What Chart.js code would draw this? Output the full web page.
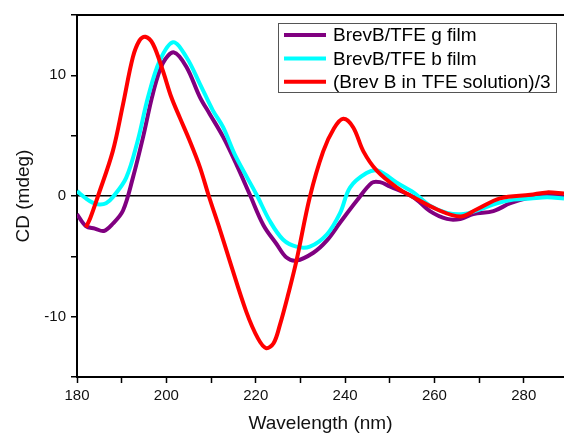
<!DOCTYPE html>
<html>
<head>
<meta charset="utf-8">
<style>
  html, body { margin: 0; padding: 0; background: #fff; }
</style>
<script src="https://cdn.jsdelivr.net/npm/chart.js@4.4.1/dist/chart.umd.min.js"></script>
</head>
<body>
<canvas id="cdChart" width="564" height="437"></canvas>
<script>
// CD spectra of BrevB: two films and the TFE solution (scaled by 1/3)
const seriesNames = ["BrevB/TFE g film", "BrevB/TFE b film", "(Brev B in TFE solution)/3"];
const seriesColors = ["#800080", "#00ffff", "#ff0000"];

const gFilmWl = [180, 182, 184, 186, 188, 190.3, 192.5, 194.8, 197, 199.2, 201.7, 204.5, 207.5, 209.7, 212.7, 215.7,
  218.7, 221.7, 224.7, 226.9, 229.1, 232.9, 235.9, 238.9, 242.6, 246, 247.8, 250, 255.3, 259, 262.8, 265.8, 268.7,
  273.2, 277, 281.5, 286, 289];
const gFilmCd = [-1.5, -2.5, -2.7, -2.9, -2.3, -1.2, 1.5, 4.9, 8.5, 11, 11.9, 10.7, 8.2, 6.8, 4.9, 2.6,
  0.1, -2.4, -4.0, -5.1, -5.35, -4.7, -3.7, -2.2, -0.4, 1.1, 1.15, 0.8, -0.1, -1.25, -1.9, -1.9, -1.5,
  -1.25, -0.6, -0.1, 0.1, -0.1];

const bFilmWl = [180, 182, 183.5, 185, 186.5, 188, 191, 193.6, 195.9, 198.5, 201.5, 204.5, 207.5, 210.4, 212.7, 215.5,
  220.2, 223.2, 226.1, 229.1, 232.1, 235.9, 238.9, 241.1, 244.8, 247.4, 251.6, 255.3, 259, 262.8, 266.5, 270.2,
  274, 277.7, 281.5, 285.2, 289];
const bFilmCd = [0.4, -0.2, -0.55, -0.7, -0.6, -0.1, 1.5, 4.6, 8.2, 11.2, 12.75, 11.5, 9.3, 7.1, 5.7, 3.3,
  0.1, -2.1, -3.6, -4.2, -4.2, -3.2, -1.4, 0.7, 1.9, 2.1, 1.1, 0.3, -0.8, -1.4, -1.5, -1.1,
  -0.6, -0.3, -0.2, -0.1, -0.2];

const solnWl = [182, 183, 184.7, 188, 190.3, 192.5, 194, 195.3, 197, 199.2, 201.1, 203, 205.2, 207.5, 209.5, 212,
  214.2, 217.9, 220.5, 222.3, 224, 225.4, 227.3, 229.1, 232.1, 235.1, 237.5, 239.6, 241.8, 244.1, 247.1, 251.6,
  255.3, 260.5, 265.8, 269.5, 274.7, 281.5, 285.2, 289];
const solnCd = [-2.6, -1.8, 0, 3.7, 7.6, 11.5, 12.9, 13.2, 12.6, 10.4, 8.2, 6.5, 4.6, 2.4, 0, -2.8,
  -5.4, -9.6, -11.8, -12.6, -12.2, -10.7, -8.1, -5.4, -0.1, 3.7, 5.6, 6.4, 5.7, 3.7, 2.1, 0.7,
  -0.1, -1.1, -1.7, -1.1, -0.2, 0.1, 0.3, 0.2];

const xTicksMajor = [180, 200, 220, 240, 260, 280];
const yTicksMajor = [-10, 0, 10];

const FONT = '"Liberation Sans", Arial, sans-serif';

function toPoints(xs, ys) {
  return xs.map((x, i) => ({ x: x, y: ys[i] }));
}

// top frame line of the plot box
const frameTop = {
  id: "frameTop",
  afterDraw(chart) {
    const { ctx, chartArea } = chart;
    ctx.save();
    ctx.strokeStyle = "#000";
    ctx.lineWidth = 2;
    ctx.beginPath();
    ctx.moveTo(chartArea.left - 1, chartArea.top);
    ctx.lineTo(chartArea.right, chartArea.top);
    ctx.stroke();
    ctx.restore();
  },
};

// boxed legend in the upper right corner
const boxLegend = {
  id: "boxLegend",
  afterDraw(chart) {
    const ctx = chart.ctx;
    const x0 = 278.5, y0 = 23.5, w = 278, h = 69;
    ctx.save();
    ctx.fillStyle = "#fff";
    ctx.fillRect(x0, y0, w, h);
    ctx.strokeStyle = "#555";
    ctx.lineWidth = 1;
    ctx.strokeRect(x0, y0, w, h);
    ctx.font = "19px " + FONT;
    ctx.textBaseline = "middle";
    chart.data.datasets.forEach((ds, i) => {
      const y = 35 + i * 23.4;
      ctx.strokeStyle = ds.borderColor;
      ctx.lineWidth = 4;
      ctx.beginPath();
      ctx.moveTo(284, y);
      ctx.lineTo(326, y);
      ctx.stroke();
      ctx.fillStyle = "#000";
      ctx.fillText(ds.label, 333, y + 1);
    });
    ctx.restore();
  },
};

const ctx = document.getElementById("cdChart").getContext("2d");
const cdChart = new Chart(ctx, {
  type: "line",
  data: {
    datasets: [
      { label: seriesNames[0], data: toPoints(gFilmWl, gFilmCd), borderColor: seriesColors[0], order: 3 },
      { label: seriesNames[1], data: toPoints(bFilmWl, bFilmCd), borderColor: seriesColors[1], order: 2 },
      { label: seriesNames[2], data: toPoints(solnWl, solnCd), borderColor: seriesColors[2], order: 1 },
    ],
  },
  options: {
    responsive: false,
    animation: false,
    layout: { padding: { top: 15, left: 0, right: 0, bottom: 0 } },
    elements: {
      line: { borderWidth: 4, tension: 0.35, fill: false, borderJoinStyle: "round" },
      point: { radius: 0 },
    },
    plugins: {
      legend: { display: false },
      tooltip: { enabled: false },
    },
    scales: {
      x: {
        type: "linear",
        min: 180,
        max: 289,
        afterFit: (s) => { s.height = 60; },
        border: { color: "#000", width: 2 },
        grid: { drawOnChartArea: false, tickLength: 6, tickColor: "#000", tickWidth: 1.5 },
        ticks: {
          stepSize: 10,
          includeBounds: false,
          autoSkip: false,
          maxRotation: 0,
          padding: 4,
          color: "#111",
          font: { family: FONT, size: 15 },
          callback: (v) => (xTicksMajor.includes(v) ? v : ""),
        },
        title: {
          display: true,
          text: "Wavelength (nm)",
          color: "#111",
          font: { family: FONT, size: 19 },
          padding: { top: 0, bottom: 2 },
        },
      },
      y: {
        min: -15,
        max: 15,
        afterFit: (s) => { s.width = 77; },
        border: { color: "#000", width: 2 },
        grid: {
          drawOnChartArea: true,
          tickLength: 6,
          tickColor: "#000",
          tickWidth: 1.5,
          lineWidth: 1.5,
          color: (c) => (c.tick && c.tick.value === 0 ? "#000" : "rgba(0,0,0,0)"),
        },
        ticks: {
          stepSize: 5,
          includeBounds: false,
          padding: 5,
          color: "#111",
          font: { family: FONT, size: 15 },
          callback: (v) => (yTicksMajor.includes(v) ? v : ""),
        },
        title: {
          display: true,
          text: "CD (mdeg)",
          color: "#111",
          font: { family: FONT, size: 19 },
          padding: { top: 12, bottom: 0 },
        },
      },
    },
  },
  plugins: [frameTop, boxLegend],
});
</script>
</body>
</html>
